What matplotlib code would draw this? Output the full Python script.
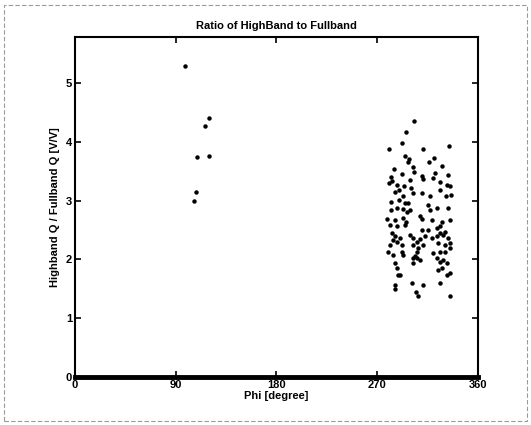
import matplotlib
matplotlib.use("Agg")
import matplotlib.pyplot as plt
from matplotlib.patches import Rectangle

# phi [degree] and highband/fullband ratio
phi_low = [98.3, 120.0, 116.2, 109.3, 119.7, 107.8, 106.6]
ratio_low = [5.28, 4.40, 4.27, 3.74, 3.76, 3.14, 3.00]

phi_high = [
    303.0, 295.7, 292.4, 280.8, 310.9, 334.4, 295.1, 298.7, 297.2, 321.0,
    316.5, 285.0, 302.2, 327.6, 303.1, 282.0, 292.4, 309.7, 321.9, 333.5,
    283.5, 299.3, 311.2, 320.1, 280.2, 287.4, 294.2, 326.1, 332.0, 335.0,
    299.9, 285.9, 289.7, 326.1, 293.3, 302.2, 310.3, 317.1, 331.4, 282.3,
    289.7, 294.8, 297.8, 315.6, 336.0,
    282.0, 287.3, 293.3, 296.3, 299.2, 317.1, 323.1, 333.5, 278.4, 285.8,
    293.3, 295.4, 308.2, 309.7, 318.6, 327.5, 335.0, 281.4, 287.3, 294.8,
    309.7, 315.6, 323.1, 326.0, 330.5, 326.0, 282.9, 285.8, 290.3, 287.3,
    284.3, 299.2, 302.2, 305.2, 308.2, 312.6, 318.6, 323.1, 329.0, 333.5,
    281.4, 291.8, 302.2, 306.7, 311.1, 324.5, 330.5, 335.0, 279.9, 284.3,
    291.8, 293.3, 305.2, 303.7, 320.1, 326.0, 330.5, 335.0, 302.2, 305.2,
    308.2, 302.2, 323.1, 326.0, 329.0, 332.0, 285.8, 287.3, 288.8, 324.5,
    327.5, 335.0, 332.0, 290.3, 285.8, 300.7, 311.1, 326.0,
    285.8, 304.6, 306.7, 335.0,
]
ratio_high = [
    4.35, 4.17, 3.97, 3.87, 3.87, 3.92, 3.75, 3.70, 3.66, 3.72,
    3.66, 3.54, 3.57, 3.58, 3.49, 3.40, 3.45, 3.41, 3.47, 3.44,
    3.33, 3.35, 3.37, 3.38, 3.29, 3.27, 3.25, 3.31, 3.27, 3.24,
    3.22, 3.15, 3.18, 3.18, 3.08, 3.12, 3.12, 3.08, 3.08, 2.98,
    3.01, 2.95, 2.95, 2.93, 3.10,
    2.84, 2.87, 2.86, 2.81, 2.84, 2.84, 2.87, 2.87, 2.69, 2.67,
    2.70, 2.64, 2.73, 2.69, 2.67, 2.64, 2.67, 2.58, 2.57, 2.58,
    2.50, 2.50, 2.53, 2.56, 2.47, 2.44, 2.44, 2.39, 2.36, 2.30,
    2.33, 2.41, 2.36, 2.30, 2.35, 2.39, 2.36, 2.39, 2.41, 2.36,
    2.24, 2.24, 2.24, 2.19, 2.24, 2.27, 2.24, 2.27, 2.13, 2.07,
    2.13, 2.07, 2.13, 2.05, 2.10, 2.13, 2.13, 2.19, 2.02, 2.02,
    1.99, 1.93, 2.02, 1.96, 1.99, 1.93, 1.93, 1.85, 1.73, 1.82,
    1.85, 1.76, 1.73, 1.73, 1.56, 1.59, 1.56, 1.59,
    1.50, 1.45, 1.38, 1.38,
]

x_ticks = [0, 90, 180, 270, 360]
y_ticks = [0, 1, 2, 3, 4, 5]

plt.rcParams["font.family"] = ["Liberation Sans", "DejaVu Sans"]
plt.rcParams["font.weight"] = "bold"

fig = plt.figure(figsize=(5.31, 4.25), dpi=100)
ax = fig.add_axes([0.141, 0.113, 0.759, 0.80])

ax.plot(phi_low, ratio_low, "o", color="black", markersize=3.2, markeredgewidth=0)
ax.plot(phi_high, ratio_high, "o", color="black", markersize=3.2, markeredgewidth=0)

ax.set_xlim(0, 360)
ax.set_ylim(0, 5.78)
ax.set_xticks(x_ticks)
ax.set_yticks(y_ticks)
ax.tick_params(direction="in", length=4, width=1.2, labelsize=8, pad=2,
               top=True, right=True)
for side, spine in ax.spines.items():
    spine.set_linewidth(1.5)
ax.spines["bottom"].set_linewidth(3.5)

ax.set_title("Ratio of HighBand to Fullband", fontsize=8, fontweight="bold", pad=6)
ax.set_xlabel("Phi [degree]", fontsize=8, fontweight="bold", labelpad=1)
ax.set_ylabel("Highband Q / Fullband Q [V/V]", fontsize=8, fontweight="bold", labelpad=4)

# faint frame of the scanned page
fig.patches.append(Rectangle((0.008, 0.01), 0.985, 0.978, transform=fig.transFigure,
                             fill=False, edgecolor="#9a9a9a", linewidth=0.8,
                             linestyle=(0, (4, 2))))

fig.savefig("out.png", dpi=100)
